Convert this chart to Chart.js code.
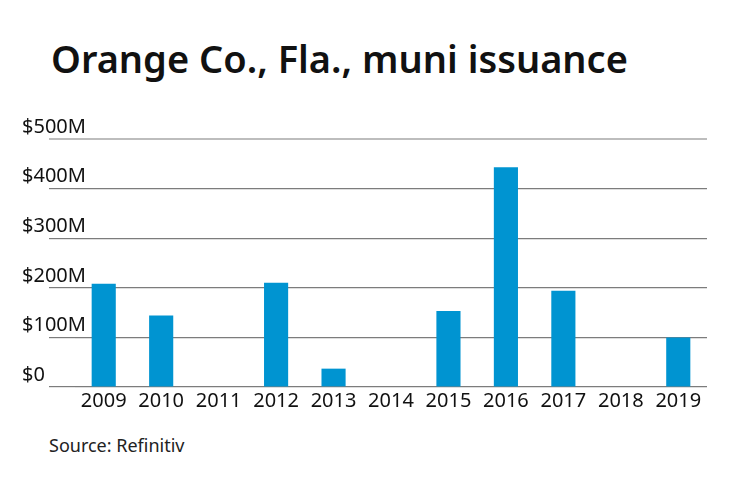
<!DOCTYPE html>
<html>
<head>
<meta charset="utf-8">
<script src="https://cdn.jsdelivr.net/npm/chart.js@4.4.1/dist/chart.umd.min.js"></script>
<style>
  html, body { margin: 0; padding: 0; background: #fff; }
  body { width: 740px; height: 482px; position: relative; overflow: hidden; font-family: "Noto Sans", sans-serif; }
  #title { position: absolute; left: 51px; top: 39px; font-size: 38px; line-height: 38px; font-weight: 600; color: #111; white-space: nowrap; }
  #source { position: absolute; left: 49px; top: 436px; font-size: 18px; line-height: 18px; color: #222; }
  #wrap { position: absolute; left: 0; top: 100px; width: 740px; height: 330px; }
</style>
</head>
<body>
<div id="title">Orange Co., Fla., muni issuance</div>
<div id="wrap"><canvas id="c"></canvas></div>
<div id="source">Source: Refinitiv</div>
<script>
const years = ['2009', '2010', '2011', '2012', '2013', '2014', '2015', '2016', '2017', '2018', '2019'];
// issuance, $ millions
const issuance = [208, 144, 0, 210, 37, 0, 153, 443, 194, 0, 100];
const yTicks = [0, 100, 200, 300, 400, 500];
const yLabels = ['$0', '$100M', '$200M', '$300M', '$400M', '$500M'];

const tickFont = { family: 'Noto Sans', size: 20 };

new Chart(document.getElementById('c'), {
    type: 'bar',
    data: {
        labels: years,
        datasets: [{ data: issuance, backgroundColor: '#0094d1', barPercentage: 0.42, categoryPercentage: 1 }]
    },
    options: {
        responsive: true,
        maintainAspectRatio: false,
        animation: false,
        layout: { padding: { left: 22, right: 33, top: 39, bottom: 0 } },
        plugins: { legend: { display: false }, tooltip: { enabled: false } },
        scales: {
            x: {
                grid: { display: false, drawTicks: false },
                border: { display: false },
                ticks: { color: '#111', font: tickFont, padding: 2, maxRotation: 0 },
                afterFit: (s) => { s.height = 43; }
            },
            y: {
                min: 0, max: 500,
                afterBuildTicks: (s) => { s.ticks = yTicks.map(v => ({ value: v })); },
                afterFit: (s) => { s.width = 53; },
                border: { display: false },
                grid: {
                    color: (c) => c.tick && c.tick.value === 500 ? '#bdbdbd' : '#7c7c7c',
                    lineWidth: (c) => c.tick && c.tick.value === 500 ? 2 : 1.2,
                    tickLength: 26
                },
                ticks: {
                    color: '#111', font: tickFont, mirror: true, crossAlign: 'near',
                    padding: -53, labelOffset: -12,
                    callback: (v) => yLabels[yTicks.indexOf(v)]
                }
            }
        }
    }
});
</script>
</body>
</html>
